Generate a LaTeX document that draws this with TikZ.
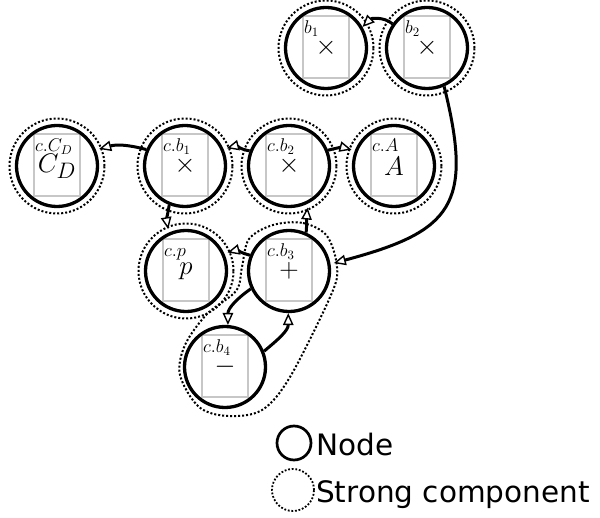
\documentclass[tikz,border=0pt]{standalone}
\usepackage{fontspec}
\usepackage{graphicx}
\newfontfamily\legfont{DejaVu Sans}
\usetikzlibrary{arrows.meta}
\newcommand{\vnode}[5]{%
  \node[rectbox] (#1r) at (#2,{#3+1}) {};
  \node[lab] (#1l) at ({#2-22},{#3+14.5}) {\scalebox{1.28}{$#4$}};
  \node[sym] (#1s) at (#2,#3) {\scalebox{1.08}{$#5$}};
  \node[nd] (#1) at (#2,#3) {};
}
\begin{document}
\begin{tikzpicture}[x=1pt,y=1pt,
  nd/.style={circle,draw,line width=3.3pt,minimum size=81pt,inner sep=0pt},
  compc/.style={circle,draw,line width=2pt,dash pattern=on 2pt off 2pt,minimum size=95pt,inner sep=0pt,outer sep=-2pt},
  ghost/.style={circle,minimum size=95pt,inner sep=0pt,outer sep=-2pt},
  rectbox/.style={draw=black!22,line width=1.5pt,minimum width=46pt,minimum height=62pt,inner sep=0pt},
  lab/.style={anchor=base west,inner sep=0pt,font=\fontsize{14.4}{17}\selectfont},
  sym/.style={inner sep=0pt,font=\fontsize{24.88}{28}\selectfont},
  edge/.style={line width=3pt,-{Triangle[fill=white,length=12pt,width=10.5pt,line width=1.4pt]}},
  legtext/.style={anchor=base west,inner sep=0pt,font=\legfont\fontsize{29.5}{34}\selectfont}]
\useasboundingbox (0,0) rectangle (600,517);
% nodes
\vnode{b1}{326}{469}{b_1}{\times}
\vnode{b2}{427}{469}{b_2}{\times}
\vnode{cD}{57}{351}{c.C_D}{C_D}
\vnode{cb1}{185}{351}{c.b_1}{\times}
\vnode{cb2}{289}{351}{c.b_2}{\times}
\vnode{cA}{394}{351}{c.A}{A}
\vnode{cp}{186}{246}{c.p}{p}
\vnode{cb3}{289}{246}{c.b_3}{+}
\vnode{cb4}{225}{150}{c.b_4}{-}
% strong components
\node[compc] (b1o) at (b1) {};
\node[compc] (b2o) at (b2) {};
\node[compc] (cDo) at (cD) {};
\node[compc] (cb1o) at (cb1) {};
\node[compc] (cb2o) at (cb2) {};
\node[compc] (cAo) at (cA) {};
\node[compc] (cpo) at (cp) {};
\node[ghost] (cb3o) at (cb3) {};
\node[ghost] (cb4o) at (cb4) {};
\draw[line width=2pt,dash pattern=on 2pt off 2pt]
  plot[smooth cycle,tension=0.55] coordinates {(273,292) (303,294) (327,281) (337,250) (331,222) (290,140) (262,107) (228,101) (199,110) (180,142) (185,172) (207,203) (236,226) (242,250) (249,278)};
% edges
\draw[edge] (b2.145) to[out=140,in=45] (b1.30);
\draw[edge] (b2.-66) to[out=-76,in=15,looseness=1.5] (cb3o.10);
\draw[edge] (cb1.157) to[out=165,in=15] (cDo.22);
\draw[edge] (cb2.159) to[out=170,in=15] (cb1o.23);
\draw[edge] (cb2.22) to[out=15,in=165] (cAo.159);
\draw[edge] (cb1.-112) to[out=-100,in=100] (cpo.113);
\draw[edge] (cb3.66) to[out=85,in=-95] (cb2o.-66);
\draw[edge] (cb3.158) to[out=165,in=15] (cpo.24);
\draw[edge] (cb3.205) to[out=215,in=90] (cb4.86);
\draw[edge] (cb4.22) to[out=40,in=-90] (cb3.-91);
% legend
\node[circle,draw,line width=2.7pt,minimum size=34pt,inner sep=0pt] (legN) at (294,74) {};
\node[circle,draw,line width=1.8pt,dash pattern=on 1.8pt off 1.8pt,minimum size=42pt,inner sep=0pt] (legS) at (293,27) {};
\node[legtext] (legNt) at (316,61) {Node};
\node[legtext] (legSt) at (316,15) {Strong component};
\end{tikzpicture}
\end{document}
